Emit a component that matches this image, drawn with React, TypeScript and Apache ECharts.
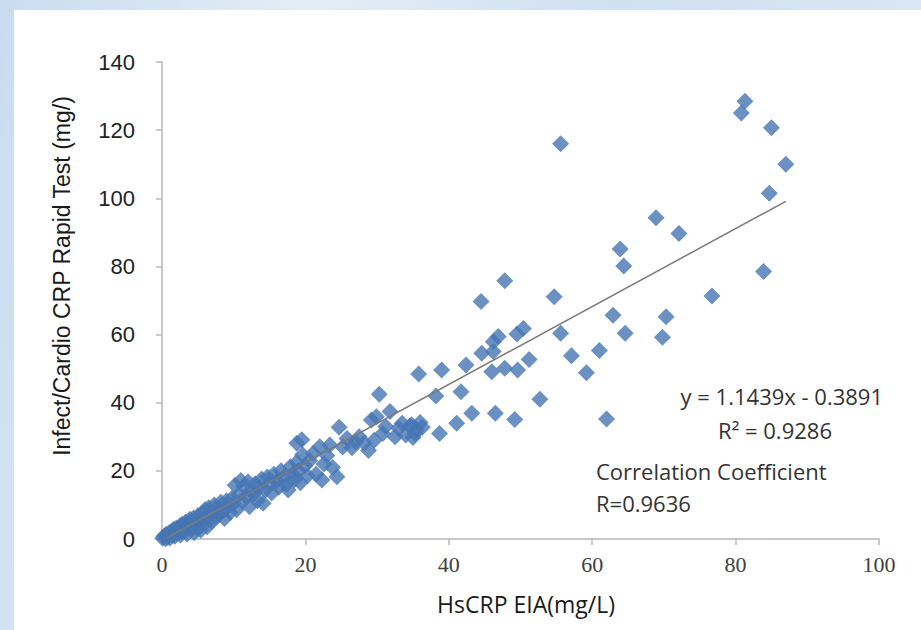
import React, { useEffect, useRef } from "react";
import * as echarts from "echarts";

// Scatter points [HsCRP EIA, Infect/Cardio CRP Rapid Test]
const lowRangePoints: number[][] = [
  [0.1, 0.2], [0.3, 0.9], [0.5, 0.1], [0.6, 1.4], [0.8, 0.5], [1.0, 1.8], [1.1, 0.3], [1.3, 2.2],
  [1.5, 1.0], [1.6, 2.8], [1.8, 0.8], [2.0, 3.2], [2.1, 1.6], [2.3, 2.5], [2.5, 3.8], [2.6, 1.2],
  [2.8, 4.3], [3.0, 2.2], [3.2, 3.5], [3.3, 5.0], [3.5, 1.5], [3.7, 4.2], [3.9, 5.8], [4.0, 2.8],
  [4.2, 3.6], [4.4, 6.2], [4.5, 1.8], [4.7, 4.9], [4.9, 3.0], [5.0, 6.8], [5.2, 5.5], [5.4, 2.6],
  [5.6, 7.5], [5.8, 4.4], [6.0, 8.6], [6.1, 6.0], [6.3, 3.6], [6.5, 9.2], [6.7, 7.0], [6.9, 5.2],
  [7.1, 8.0], [7.3, 10.0], [7.5, 6.2], [7.8, 9.0], [8.0, 7.3], [8.2, 10.8], [8.5, 8.2], [8.7, 6.0],
  [9.0, 11.2], [9.2, 9.6], [9.5, 7.8], [9.8, 12.0], [10.0, 10.4], [10.2, 15.8], [10.4, 8.6],
  [10.7, 13.0], [11.0, 17.2], [11.2, 11.0], [11.4, 15.5], [11.7, 12.5], [12.0, 16.8], [12.2, 9.5],
  [12.5, 14.0], [12.8, 13.2], [13.0, 16.2], [13.3, 11.2], [13.6, 15.2], [13.9, 17.6], [14.1, 10.5],
  [14.4, 14.3], [14.7, 18.2], [15.0, 16.4], [15.3, 13.5], [15.6, 19.0], [16.0, 17.0], [16.3, 15.2],
  [16.6, 20.0], [17.0, 18.2], [17.3, 16.0], [17.6, 14.4], [17.9, 21.2], [18.2, 19.0], [18.5, 17.4],
  [18.8, 22.5], [19.0, 20.0], [19.3, 16.5], [19.6, 24.7], [18.8, 28.1], [19.9, 21.5], [19.5, 29.1],
];

const midRangePoints: number[][] = [
  [20.3, 18.6], [20.6, 23.0], [21.1, 25.2], [21.5, 19.0], [22.0, 27.1], [22.3, 17.3], [22.6, 22.0],
  [23.0, 24.5], [23.4, 27.6], [23.8, 21.0], [24.4, 18.3], [24.7, 32.8], [25.2, 27.0], [25.8, 29.5],
  [26.5, 26.8], [27.0, 28.5], [27.5, 30.0], [28.2, 28.2], [28.8, 26.0], [29.2, 34.9], [29.6, 29.0],
  [29.9, 35.9], [30.3, 42.5], [30.8, 31.0], [31.2, 33.0], [31.8, 37.4], [32.5, 30.0], [33.0, 32.5],
  [33.5, 34.0], [34.0, 30.5], [34.6, 33.2], [34.8, 33.5], [35.0, 29.8], [35.3, 31.0], [35.5, 32.0],
  [35.8, 48.4], [36.0, 34.2], [36.3, 32.8],
];

const highRangePoints: number[][] = [
  [38.2, 42.0], [38.7, 31.0], [39.0, 49.6], [41.1, 34.0], [41.7, 43.2], [42.4, 51.1], [43.2, 36.9],
  [44.5, 69.7], [44.6, 54.5], [46.0, 49.1], [46.2, 57.9], [46.2, 55.0], [46.5, 36.9], [46.9, 59.4],
  [47.8, 75.8], [47.8, 50.1], [49.2, 35.1], [49.5, 60.2], [49.6, 49.6], [50.4, 61.8], [51.2, 52.7],
  [52.7, 41.0], [54.7, 71.1], [55.6, 116.0], [55.6, 60.4], [57.1, 53.8], [59.2, 48.8], [61.0, 55.3],
  [62.0, 35.2], [62.9, 65.7], [63.9, 85.1], [64.4, 80.1], [64.6, 60.4], [68.9, 94.3], [69.8, 59.2],
  [70.3, 65.2], [72.1, 89.7], [76.7, 71.3], [80.8, 125.0], [81.3, 128.5], [83.9, 78.5],
  [84.7, 101.5], [85.0, 120.7], [87.0, 110.0],
];

// Trend line end points (y = 1.1439x - 0.3891)
const trendLine: number[][] = [[0.6, 0.3], [87.0, 99.1]];

const xTicks = { min: 0, max: 100, interval: 20 };
const yTicks = { min: 0, max: 140, interval: 20 };

const equationText = "y = 1.1439x - 0.3891";
const r2Text = "R² = 0.9286";
const corrTitle = "Correlation Coefficient";
const corrValue = "R=0.9636";
const xName = "HsCRP EIA(mg/L)";
const yName = "Infect/Cardio CRP Rapid Test (mg/)";

export default function App() {
  const ref = useRef<HTMLDivElement>(null);
  useEffect(() => {
    if (!ref.current) return;
    const chart = echarts.init(ref.current, undefined, { renderer: "svg" });
    const sans = "'Open Sans', 'Noto Sans', sans-serif";
    chart.setOption({
      animation: false,
      grid: { left: 162, right: 42, top: 62, bottom: 91 },
      xAxis: {
        type: "value",
        min: xTicks.min,
        max: xTicks.max,
        interval: xTicks.interval,
        splitLine: { show: false },
        axisLine: { show: true, lineStyle: { color: "#b8b8b8", width: 1.5 } },
        axisTick: { show: true, inside: false, length: 6, lineStyle: { color: "#b8b8b8", width: 1.5 } },
        axisLabel: {
          margin: 14,
          color: "#404040",
          fontSize: 22,
          fontFamily: "'Liberation Serif', 'DejaVu Serif', serif",
        },
      },
      yAxis: {
        type: "value",
        min: yTicks.min,
        max: yTicks.max,
        interval: yTicks.interval,
        splitLine: { show: false },
        axisLine: { show: true, lineStyle: { color: "#b8b8b8", width: 1.5 } },
        axisTick: { show: true, inside: false, length: 6, lineStyle: { color: "#b8b8b8", width: 1.5 } },
        axisLabel: {
          margin: 27,
          color: "#222",
          fontSize: 22,
          fontFamily: "'Liberation Sans', Arial, sans-serif",
        },
      },
      graphic: [
        {
          type: "rect",
          z: -10,
          silent: true,
          shape: { x: 14, y: 10, width: 907, height: 620 },
          style: { fill: "#ffffff" },
        },
        {
          type: "text",
          x: 62,
          y: 276,
          rotation: Math.PI / 2,
          style: {
            text: yName,
            fill: "#1a1a1a",
            font: "23px 'Liberation Sans Narrow', 'Arial Narrow', 'Liberation Sans', sans-serif",
            align: "center",
            verticalAlign: "middle",
          },
        },
        {
          type: "text",
          x: 526,
          y: 604,
          style: {
            text: xName,
            fill: "#1a1a1a",
            font: `23px ${sans}`,
            align: "center",
            verticalAlign: "middle",
          },
        },
        {
          type: "text",
          x: 883,
          y: 396,
          style: { text: equationText, fill: "#333", font: `22px ${sans}`, align: "right", verticalAlign: "middle" },
        },
        {
          type: "text",
          x: 775,
          y: 430,
          style: { text: r2Text, fill: "#333", font: `22px ${sans}`, align: "center", verticalAlign: "middle" },
        },
        {
          type: "text",
          x: 596,
          y: 471,
          style: { text: corrTitle, fill: "#333", font: `22px ${sans}`, align: "left", verticalAlign: "middle" },
        },
        {
          type: "text",
          x: 596,
          y: 503,
          style: { text: corrValue, fill: "#333", font: `22px ${sans}`, align: "left", verticalAlign: "middle" },
        },
      ],
      series: [
        {
          type: "scatter",
          symbol: "diamond",
          symbolSize: 17,
          itemStyle: { color: "#4676B4" },
          data: [...lowRangePoints, ...midRangePoints, ...highRangePoints],
          z: 2,
        },
        {
          type: "line",
          data: trendLine,
          symbol: "none",
          lineStyle: { color: "#7a7a7a", width: 1.5 },
          z: 3,
        },
      ],
    });
    return () => chart.dispose();
  }, []);
  return (
    <div
      style={{
        position: "fixed",
        left: 0,
        top: 0,
        width: 921,
        height: 630,
        background: "linear-gradient(100deg, #c9dcef 0%, #e3edf7 30%, #cfe0f1 60%, #dde8f4 100%)",
      }}
    >
      <div ref={ref} style={{ width: 921, height: 630 }} />
    </div>
  );
}
